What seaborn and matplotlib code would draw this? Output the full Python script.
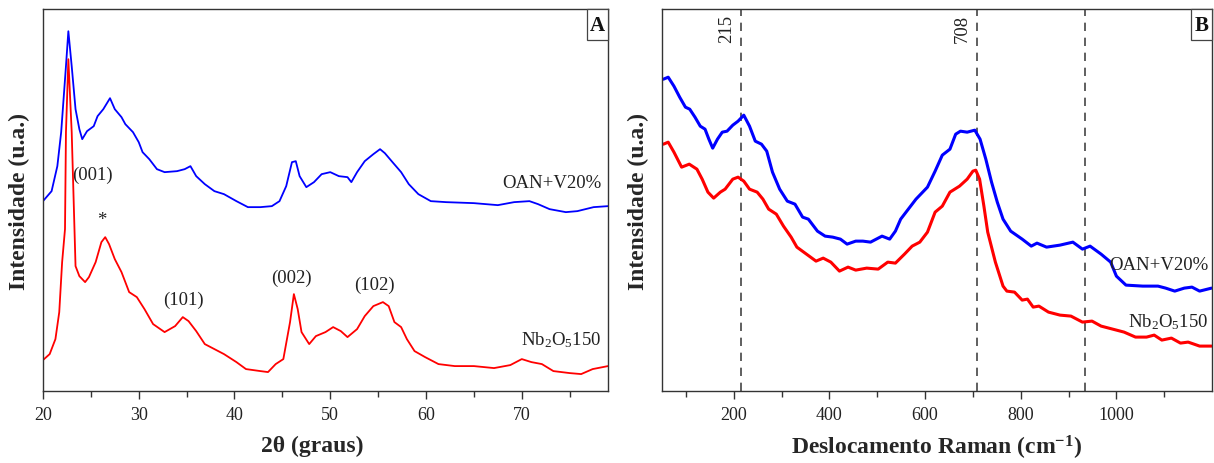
import numpy as np
import pandas as pd
import matplotlib
matplotlib.use("Agg")
import matplotlib.pyplot as plt
from matplotlib.patches import Rectangle
import seaborn as sns

# --- XRD patterns (2θ in degrees, intensity in arbitrary units) ---
xrd_oan_2theta = [20.0, 20.9, 21.5, 21.9, 22.4, 22.65, 23.0, 23.4, 23.8, 24.1, 24.6, 25.3, 25.7,
                  26.3, 27.0, 27.5, 28.2, 28.6, 29.4, 30.0, 30.4, 31.1, 31.9, 32.7, 34.0, 34.8,
                  35.4, 36.0, 36.9, 37.9, 38.9, 40.2, 41.4, 42.7, 43.9, 44.7, 45.4, 46.0, 46.4,
                  46.8, 47.5, 48.3, 49.1, 50.0, 50.9, 51.8, 52.2, 52.8, 53.6, 54.5, 55.2, 55.7,
                  56.5, 57.4, 58.2, 59.2, 60.5, 62.1, 65.0, 67.5, 69.2, 70.8, 71.7, 72.9, 74.6,
                  75.8, 77.5, 79.0]
xrd_oan_int = [190, 200, 225, 259, 325, 360, 325, 282, 262, 252, 260, 265, 275,
               282, 293, 282, 274, 267, 259, 249, 239, 232, 222, 219, 220, 222,
               225, 215, 207, 200, 197, 190, 184, 184, 185, 190, 205, 229, 230,
               215, 204, 209, 217, 219, 215, 214, 209, 219, 230, 237, 242, 238,
               229, 219, 207, 197, 190, 189, 188, 186, 189, 190, 187, 182, 179,
               180, 184, 185]

xrd_nb_2theta = [20.0, 20.7, 21.3, 21.7, 22.0, 22.3, 22.4, 22.65, 23.0, 23.2, 23.4, 23.8, 24.4,
                 24.8, 25.5, 26.1, 26.5, 26.9, 27.5, 28.2, 29.0, 29.8, 30.6, 31.5, 32.7, 33.8,
                 34.6, 35.2, 36.0, 36.9, 37.9, 38.9, 40.2, 41.2, 42.7, 43.5, 44.3, 45.1, 45.8,
                 46.2, 46.6, 47.0, 47.8, 48.5, 49.5, 50.3, 51.1, 51.8, 52.8, 53.6, 54.5, 55.5,
                 56.1, 56.7, 57.4, 58.0, 58.8, 59.9, 61.3, 63.0, 65.0, 67.1, 68.8, 70.0, 71.0,
                 72.1, 73.3, 75.0, 76.2, 77.4, 79.0]
xrd_nb_int = [31, 37, 52, 79, 129, 162, 259, 332, 259, 192, 125, 115, 109,
              114, 129, 149, 154, 147, 132, 119, 99, 94, 82, 67, 59, 65,
              74, 70, 60, 47, 42, 37, 29, 22, 20, 19, 27, 32, 69,
              97, 82, 59, 47, 55, 59, 64, 60, 54, 62, 75, 85, 89,
              85, 69, 64, 52, 40, 34, 27, 25, 25, 23, 26, 32, 29,
              27, 20, 18, 17, 22, 25]

xrd_peak_labels = ["(001)", "*", "(101)", "(002)", "(102)"]
xrd_peak_pos = [25.2, 26.1, 34.7, 45.9, 54.6]
xrd_peak_height = [217, 172, 92, 114, 107]

# --- Raman spectra (Raman shift in cm^-1, intensity in arbitrary units) ---
raman_oan_shift = [53, 63, 75, 87, 99, 108, 119, 130, 140, 148, 156, 166, 176, 186, 198, 209,
                   221, 233, 245, 258, 269, 281, 296, 312, 328, 344, 356, 375, 391, 407,
                   423, 437, 455, 470, 486, 510, 526, 538, 549, 565, 581, 605, 621, 636,
                   652, 664, 674, 688, 704, 715, 727, 739, 751, 763, 779, 803, 822, 834,
                   854, 882, 909, 929, 945, 968, 988, 1000, 1020, 1055, 1087, 1103, 1122,
                   1142, 1158, 1174, 1199]
raman_oan_int = [312, 314, 305, 294, 284, 282, 274, 265, 262, 252, 243, 252, 259, 260, 266, 270,
                 276, 265, 250, 247, 240, 219, 202, 190, 187, 174, 172, 160, 155, 154,
                 152, 147, 150, 150, 149, 155, 152, 160, 172, 182, 192, 204, 220, 236,
                 242, 257, 260, 259, 261, 252, 232, 209, 189, 172, 160, 152, 145, 148,
                 144, 146, 149, 142, 145, 137, 129, 115, 106, 105, 105, 103, 100,
                 103, 104, 100, 103]

raman_nb_shift = [53, 63, 75, 91, 107, 123, 134, 146, 158, 172, 182, 198, 209, 221, 233, 249,
                  261, 273, 289, 304, 320, 332, 352, 372, 387, 403, 421, 439, 455, 478,
                  502, 522, 538, 557, 573, 589, 605, 621, 636, 652, 672, 688, 700, 706,
                  714, 723, 731, 747, 763, 771, 787, 803, 814, 826, 838, 858, 882, 905,
                  929, 949, 968, 992, 1016, 1040, 1063, 1079, 1095, 1115, 1134, 1150,
                  1174, 1199]
raman_nb_int = [247, 249, 239, 224, 227, 222, 212, 199, 193, 199, 202, 212, 214, 210, 202, 199,
                192, 182, 177, 165, 154, 144, 137, 130, 133, 129, 120, 124, 121, 123,
                122, 129, 128, 137, 145, 149, 159, 179, 185, 199, 205, 212, 220, 221,
                212, 185, 159, 129, 105, 100, 99, 91, 92, 84, 85, 79, 76, 75,
                69, 70, 65, 62, 59, 54, 54, 56, 51, 53, 48, 49,
                45, 45]

raman_ref_lines = [215, 708, 935]
raman_ref_labels = ["215", "708", ""]

BLUE = "#0000FF"
RED = "#FF0000"
SERIF = ["Liberation Serif", "DejaVu Serif"]
TXT = 13.5

sns.set_theme(style="ticks")
plt.rcParams["font.family"] = SERIF
plt.rcParams["mathtext.fontset"] = "custom"
plt.rcParams["mathtext.rm"] = "Liberation Serif"
plt.rcParams["mathtext.it"] = "Liberation Serif:italic"
plt.rcParams["mathtext.bf"] = "Liberation Serif:bold"
plt.rcParams["mathtext.default"] = "regular"
plt.rcParams["axes.edgecolor"] = "#333333"
plt.rcParams["axes.linewidth"] = 1.0
plt.rcParams["xtick.color"] = "#333333"
plt.rcParams["xtick.labelcolor"] = "#222222"

fig = plt.figure(figsize=(12.14, 4.64), dpi=100)
ax_a = fig.add_axes([0.0354, 0.155, 0.4654, 0.823])
ax_b = fig.add_axes([0.5453, 0.155, 0.4531, 0.823])

# Panel A: XRD
df_oan = pd.DataFrame({"x": xrd_oan_2theta, "y": xrd_oan_int})
df_nb = pd.DataFrame({"x": xrd_nb_2theta, "y": xrd_nb_int})
sns.lineplot(data=df_oan, x="x", y="y", ax=ax_a, color=BLUE, lw=1.3, estimator=None, sort=False)
sns.lineplot(data=df_nb, x="x", y="y", ax=ax_a, color=RED, lw=1.3, estimator=None, sort=False)
ax_a.set_xlim(20, 79)
ax_a.set_ylim(0, 382)
ax_a.set_xticks(np.arange(20, 71, 10))
ax_a.set_xticks(np.arange(25, 79, 10), minor=True)
ax_a.set_yticks([])
for lab, px, ph in zip(xrd_peak_labels, xrd_peak_pos, xrd_peak_height):
    ax_a.text(px, ph, lab, ha="center", va="center", fontsize=TXT, color="#222222")
ax_a.text(78.3, 209, "OAN+V20%", ha="right", va="center", fontsize=TXT, color="#222222")
ax_a.text(78.3, 52, r"Nb$_2$O$_5$150", ha="right", va="center", fontsize=TXT, color="#222222")
ax_a.set_xlabel("2θ (graus)", fontsize=17, fontweight="bold")
ax_a.xaxis.set_label_coords(0.477, -0.115)
ax_a.set_ylabel("Intensidade (u.a.)", fontsize=17, fontweight="bold", labelpad=9)

# Panel B: Raman
df_roan = pd.DataFrame({"x": raman_oan_shift, "y": raman_oan_int})
df_rnb = pd.DataFrame({"x": raman_nb_shift, "y": raman_nb_int})
sns.lineplot(data=df_roan, x="x", y="y", ax=ax_b, color=BLUE, lw=2.2, estimator=None, sort=False)
sns.lineplot(data=df_rnb, x="x", y="y", ax=ax_b, color=RED, lw=2.2, estimator=None, sort=False)
for xv, lab in zip(raman_ref_lines, raman_ref_labels):
    ax_b.axvline(xv, color="#444444", lw=1.2, ls=(0, (5, 4)), zorder=1)
    if lab:
        ax_b.text(xv - 12, 0.95, lab, transform=ax_b.get_xaxis_transform(), rotation=90,
                  ha="right", va="center", fontsize=TXT, color="#222222")
ax_b.set_xlim(50, 1200)
ax_b.set_ylim(0, 382)
ax_b.set_xticks(np.arange(200, 1001, 200))
ax_b.set_xticks(np.arange(100, 1200, 200), minor=True)
ax_b.set_yticks([])
ax_b.text(1192, 127, "OAN+V20%", ha="right", va="center", fontsize=TXT, color="#222222")
ax_b.text(1192, 70, r"Nb$_2$O$_5$150", ha="right", va="center", fontsize=TXT, color="#222222")
ax_b.set_xlabel("Deslocamento Raman (cm$^{-1}$)", fontsize=17, fontweight="bold")
ax_b.xaxis.set_label_coords(0.5, -0.11)
ax_b.set_ylabel("Intensidade (u.a.)", fontsize=17, fontweight="bold", labelpad=9)

for ax, tag in ((ax_a, "A"), (ax_b, "B")):
    for side in ("top", "right", "left", "bottom"):
        ax.spines[side].set_visible(True)
    ax.tick_params(axis="x", which="major", direction="out", length=6, width=1,
                   labelsize=13, pad=5)
    ax.tick_params(axis="x", which="minor", direction="out", length=4, width=1)
    w_px = ax.get_position().width * fig.bbox.width
    h_px = ax.get_position().height * fig.bbox.height
    bw, bh = 21.0 / w_px, 31.0 / h_px
    ax.add_patch(Rectangle((1 - bw, 1 - bh), bw, bh, transform=ax.transAxes,
                           fc="white", ec="#444444", lw=0.9, zorder=5, clip_on=False))
    ax.text(1 - bw / 2, 1 - bh / 2, tag, transform=ax.transAxes, ha="center", va="center",
            fontsize=15, fontweight="bold", color="#111111", zorder=6)

fig.savefig("out.png", dpi=100)
